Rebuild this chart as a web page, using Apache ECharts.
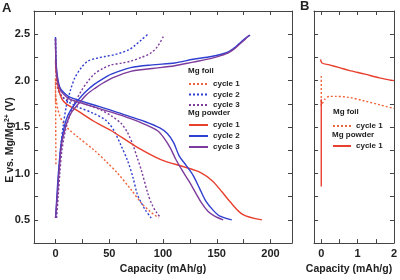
<!DOCTYPE html>
<html>
<head>
<meta charset="utf-8">
<script src="https://cdn.jsdelivr.net/npm/echarts@6/dist/echarts.min.js"></script>
<style>
  html, body { margin: 0; padding: 0; background: #fff; }
  #chart { width: 400px; height: 280px; }
</style>
</head>
<body>
<div id="chart"></div>
<script>
// panel A, [capacity mAh/g, E V]
var foil1 = [[0.4,1.1],[0.2,1.5],[0,2.03],[0.05,1.75],[0.3,1.84],[1,1.77],[2,1.70],[4,1.62],[7,1.55],[11,1.49],[20,1.40],[36,1.25],[47,1.13],[58,1.0],[70,0.83],[80,0.68],[88,0.59],[96,0.52]]
var foil2Dis = [[0,2.45],[0.5,2.15],[1.5,1.98],[3,1.9],[6,1.83],[12,1.77],[20,1.72],[35,1.65],[46,1.58],[51,1.52],[55,1.45],[61,1.3],[67,1.14],[72,0.96],[76,0.78],[80,0.68],[84,0.6],[89,0.52]]
var foil2Chg = [[0.5,0.52],[1.5,0.7],[3,1.0],[5,1.3],[7,1.5],[10,1.72],[14,1.9],[18,2.03],[24,2.14],[30,2.21],[38,2.24],[46,2.26],[55,2.28],[61,2.30],[68,2.33],[74,2.38],[80,2.44],[86,2.50]]
var foil3Dis = [[0,2.45],[0.5,2.12],[1.5,1.96],[3,1.88],[7,1.82],[15,1.78],[27,1.75],[43,1.68],[52,1.62],[61,1.54],[67,1.44],[72,1.31],[76,1.17],[80,1.03],[86,0.78],[90,0.66],[94,0.58],[98,0.52]]
var foil3Chg = [[1,0.52],[2.5,0.75],[4,1.0],[6,1.25],[9,1.45],[13,1.62],[18,1.76],[24,1.89],[30,1.99],[36,2.07],[44,2.13],[52,2.17],[62,2.19],[70,2.21],[80,2.25],[89,2.30],[95,2.37],[101,2.49]]
var powder1 = [[0,2.22],[0.5,2.1],[1.5,2.0],[3,1.9],[6,1.8],[10,1.75],[20,1.68],[36,1.56],[52,1.46],[75,1.29],[98,1.15],[120,1.07],[135,1.01],[146,0.92],[155,0.8],[162,0.70],[174,0.56],[192,0.50]]
var powder2Dis = [[0,2.47],[0.5,2.2],[2,2.03],[4,1.93],[7,1.88],[12,1.83],[21,1.79],[35,1.74],[52,1.68],[70,1.61],[83,1.56],[97,1.49],[104,1.43],[110,1.33],[115,1.19],[122,1.08],[128,0.98],[134,0.84],[140,0.70],[147,0.60],[153,0.54],[164,0.50]]
var powder2Chg = [[0,0.52],[0.5,0.6],[1.5,0.8],[3,1.05],[5,1.3],[7,1.44],[10,1.58],[14,1.68],[21,1.79],[28,1.88],[36,1.96],[44,2.02],[52,2.07],[70,2.14],[90,2.17],[111,2.19],[128,2.23],[145,2.26],[159,2.30],[166,2.35],[171,2.40],[176,2.45],[181,2.49]]
var powder3Dis = [[0,2.45],[0.5,2.18],[2,2.0],[4,1.91],[7,1.86],[12,1.81],[21,1.77],[35,1.72],[52,1.66],[70,1.59],[83,1.53],[95,1.46],[101,1.38],[107,1.27],[112,1.15],[118,1.03],[124,0.92],[130,0.80],[136,0.68],[142,0.59],[148,0.54],[156,0.50]]
var powder3Chg = [[0,0.52],[0.6,0.6],[2,0.8],[3.5,1.05],[5.5,1.3],[8,1.44],[11,1.56],[15,1.66],[22,1.76],[29,1.85],[37,1.92],[45,1.98],[53,2.03],[70,2.10],[90,2.13],[111,2.16],[128,2.20],[145,2.24],[159,2.29],[166,2.34],[171,2.39],[176,2.44],[180,2.49]]

// panel B, first 2 mAh/g
var foilB = [[0,2.05],[0,1.73],[0.1,1.8],[0.22,1.83],[0.4,1.83],[0.76,1.82],[1.2,1.78],[1.6,1.74],[2,1.70]]
var powderB = [[0,0.86],[0,1.4],[0,1.8],null,[-0.02,2.23],[0.02,2.19],[0.22,2.17],[0.5,2.14],[0.76,2.11],[1.2,2.07],[1.6,2.03],[2,2.0]]

var xTicksA = [0,25,50,75,100,125,150,175,200]
var xLabelsA = [0,50,100,150,200]
var xTicksB = [0,0.5,1,1.5,2]
var xLabelsB = [0,1,2]

var red = '#e8402f', orange = '#f0643c', blue = '#2f3fd0', purple = '#7d3b9c'
var font = 'Liberation Sans, Arial, sans-serif'
var axisColor = '#444'

var chart = echarts.init(document.getElementById('chart'))

function xAxis(grid, min, max, ticks, labels, top) {
  return {
    type: 'value', gridIndex: grid, min: min, max: max,
    position: top ? 'top' : 'bottom',
    axisLine: { show: true, onZero: false, lineStyle: { color: axisColor, width: 1 } },
    axisTick: { show: true, inside: true, length: 4, customValues: ticks, lineStyle: { color: axisColor } },
    axisLabel: top ? { show: false } : {
      show: true, customValues: labels, margin: 5,
      color: '#222', fontSize: 11, fontWeight: 'bold', fontFamily: font
    },
    splitLine: { show: false },
    name: top ? '' : 'Capacity (mAh/g)',
    nameLocation: 'middle', nameGap: 20,
    nameTextStyle: {
      color: '#222', fontSize: 10.5, fontWeight: 'bold', fontFamily: font,
      padding: grid === 1 ? [0, 10, 0, 0] : 0
    }
  }
}

function yAxis(grid, labels, right) {
  return {
    type: 'value', gridIndex: grid, min: 0.25, max: 2.75, interval: 0.25,
    position: right ? 'right' : 'left',
    axisLine: { show: true, onZero: false, lineStyle: { color: axisColor, width: 1 } },
    axisTick: { show: true, inside: true, length: 4, lineStyle: { color: axisColor } },
    axisLabel: {
      show: labels, margin: 4,
      color: '#222', fontSize: 11, fontWeight: 'bold', fontFamily: font,
      formatter: function (v) {
        return Math.round(v * 4) % 2 === 0 ? v.toFixed(1) : ''
      }
    },
    splitLine: { show: false }
  }
}

function line(name, data, color, dotted, xi, yi) {
  return {
    name: name, type: 'line', data: data,
    xAxisIndex: xi, yAxisIndex: yi,
    showSymbol: false, symbol: 'none', smooth: 0.3, animation: false,
    connectNulls: false,
    lineStyle: { color: color, width: 1.4, type: dotted ? [2, 2] : 'solid' },
    itemStyle: { color: color }
  }
}

var legendText = { color: '#222', fontSize: 8, fontWeight: 'bold', fontFamily: font }
var cycleLabel = function (n) { return 'cycle ' + n.slice(-1) }
var noSymbol = { opacity: 0, borderWidth: 0 }

var option = {
  animation: false,
  grid: [
    { left: 34, top: 11, width: 258, height: 237 },
    { left: 314, top: 11, width: 82, height: 237 }
  ],
  xAxis: [
    xAxis(0, -20, 220, xTicksA, xLabelsA, false),
    xAxis(1, -0.2, 2, xTicksB, xLabelsB, false),
    xAxis(0, -20, 220, xTicksA, xLabelsA, true),
    xAxis(1, -0.2, 2, xTicksB, xLabelsB, true)
  ],
  yAxis: [
    yAxis(0, true, false),
    yAxis(1, false, false),
    yAxis(0, false, true),
    yAxis(1, false, true)
  ],
  legend: [
    { data: ['foil1', 'foil2', 'foil3'], orient: 'vertical', left: 188, top: 80, padding: 0,
      itemWidth: 19, itemHeight: 8, itemGap: 2.5, itemStyle: noSymbol, textStyle: legendText, formatter: cycleLabel, selectedMode: false },
    { data: ['powder1', 'powder2', 'powder3'], orient: 'vertical', left: 188, top: 121, padding: 0,
      itemWidth: 19, itemHeight: 8, itemGap: 3, itemStyle: noSymbol, textStyle: legendText, formatter: cycleLabel, selectedMode: false },
    { data: ['foilB1'], orient: 'vertical', left: 332, top: 122, padding: 0,
      itemWidth: 18, itemHeight: 8, itemStyle: noSymbol, textStyle: legendText, formatter: cycleLabel, selectedMode: false },
    { data: ['powderB1'], orient: 'vertical', left: 332, top: 142, padding: 0,
      itemWidth: 18, itemHeight: 8, itemStyle: noSymbol, textStyle: legendText, formatter: cycleLabel, selectedMode: false }
  ],
  graphic: [
    { type: 'text', left: 2, top: 2, style: { text: 'A', fill: '#222', font: 'bold 13px ' + font } },
    { type: 'text', left: 300, top: 0, style: { text: 'B', fill: '#222', font: 'bold 13px ' + font } },
    { type: 'text', left: 188, top: 67, style: { text: 'Mg foil', fill: '#222', font: 'bold 8px ' + font } },
    { type: 'text', left: 188, top: 109, style: { text: 'Mg powder', fill: '#222', font: 'bold 8px ' + font } },
    { type: 'text', left: 333, top: 108, style: { text: 'Mg foil', fill: '#222', font: 'bold 8px ' + font } },
    { type: 'text', left: 332, top: 131, style: { text: 'Mg powder', fill: '#222', font: 'bold 8px ' + font } },
    {
      type: 'text', x: 4, y: 140, rotation: Math.PI / 2,
      style: {
        text: 'E vs. Mg/Mg{sup|2+} (V)', fill: '#222', font: 'bold 10.5px ' + font,
        align: 'center', verticalAlign: 'top',
        rich: { sup: { fontSize: 7, fontWeight: 'bold', fontFamily: font, fill: '#222', verticalAlign: 'top', padding: [0, 0, 5, 0] } }
      }
    }
  ],
  series: [
    line('foil1', foil1, orange, true, 0, 0),
    line('foil2', foil2Dis, blue, true, 0, 0),
    line('foil2', foil2Chg, blue, true, 0, 0),
    line('foil3', foil3Dis, purple, true, 0, 0),
    line('foil3', foil3Chg, purple, true, 0, 0),
    line('powder1', powder1, red, false, 0, 0),
    line('powder2', powder2Dis, blue, false, 0, 0),
    line('powder2', powder2Chg, blue, false, 0, 0),
    line('powder3', powder3Dis, purple, false, 0, 0),
    line('powder3', powder3Chg, purple, false, 0, 0),
    line('foilB1', foilB, orange, true, 1, 1),
    line('powderB1', powderB, red, false, 1, 1)
  ]
}

chart.setOption(option)
</script>
</body>
</html>
